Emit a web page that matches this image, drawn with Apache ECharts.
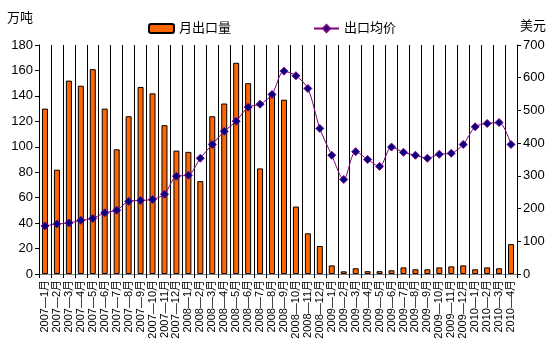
<!DOCTYPE html>
<html><head><meta charset="utf-8">
<script src="https://cdn.jsdelivr.net/npm/echarts@6/dist/echarts.min.js"></script>
<style>html,body{margin:0;padding:0;background:#fff}#c{width:555px;height:360px}</style>
</head><body><div id="c"></div>
<script>
const categories = ['2007—1月','2007—2月','2007—3月','2007—4月','2007—5月','2007—6月','2007—7月','2007—8月','2007—9月','2007—10月','2007—11月','2007—12月',
'2008—1月','2008—2月','2008—3月','2008—4月','2008—5月','2008—6月','2008—7月','2008—8月','2008—9月','2008—10月','2008—11月','2008—12月',
'2009—1月','2009—2月','2009—3月','2009—4月','2009—5月','2009—6月','2009—7月','2009—8月','2009—9月','2009—10月','2009—11月','2009—12月',
'2010—1月','2010—2月','2010—3月','2010—4月'];
const volume = [130,82,152,148,161,130,98,124,147,142,117,97,
96,73,124,134,166,150,83,141,137,53,32,22,
6.8,2.1,4.5,2.2,2.2,2.9,5.2,3.7,3.7,5.2,6,6.8,
3.7,5.2,4.5,23.5];
const price = [147,153,156,164,170,187,195,222,225,228,244,299,
302,354,396,436,467,510,519,549,620,606,567,445,
363,289,374,350,329,388,372,363,354,366,369,396,
450,460,463,396];
const leftTicks = {min:0,max:180,interval:20};
const rightTicks = {min:0,max:700,interval:100};
const font = '"Liberation Sans", Arial, "Noto Sans CJK SC", sans-serif';
const chart = echarts.init(document.getElementById('c'));
chart.setOption({
  animation:false,
  textStyle:{fontFamily:font},
  grid:{left:39,right:38,top:45,bottom:86},
  legend:[
    {left:143,top:17,itemWidth:25,itemHeight:9,textStyle:{fontSize:13,color:'#000',fontFamily:font},data:['月出口量']},
    {left:308,top:17,itemWidth:25,itemHeight:9,textStyle:{fontSize:13,color:'#000',fontFamily:font},data:['出口均价']}
  ],
  graphic:[
    {type:'text',left:7,top:12,style:{text:'万吨',fontSize:13,fill:'#000',fontFamily:font}},
    {type:'text',left:520,top:20,style:{text:'美元',fontSize:13,fill:'#000',fontFamily:font}}
  ],
  xAxis:[{
    type:'category',data:categories,boundaryGap:true,
    axisLine:{lineStyle:{color:'#000'}},
    axisTick:{show:true,inside:false,length:4,lineStyle:{color:'#000'}},
    axisLabel:{rotate:90,interval:0,fontSize:11,color:'#000',margin:6,fontFamily:font},
    splitLine:{show:true,lineStyle:{color:'#000',width:1}}
  },{
    type:'category',position:'top',data:categories,
    axisLine:{lineStyle:{color:'#808080'}},axisTick:{show:false},axisLabel:{show:false}
  }],
  yAxis:[{
    type:'value',min:leftTicks.min,max:leftTicks.max,interval:leftTicks.interval,
    axisLine:{show:true,lineStyle:{color:'#000'}},
    axisTick:{show:true,length:4,lineStyle:{color:'#000'}},
    axisLabel:{fontSize:13,color:'#000',margin:6,fontFamily:font},
    splitLine:{show:false}
  },{
    type:'value',min:rightTicks.min,max:rightTicks.max,interval:rightTicks.interval,
    axisLine:{show:true,lineStyle:{color:'#000'}},
    axisTick:{show:true,length:4,lineStyle:{color:'#000'}},
    axisLabel:{fontSize:13,color:'#000',margin:6,fontFamily:font},
    splitLine:{show:false}
  }],
  series:[{
    name:'月出口量',type:'bar',yAxisIndex:0,data:volume,barWidth:6,
    itemStyle:{color:'#FF6600',borderColor:'#000',borderWidth:1}
  },{
    name:'出口均价',type:'line',yAxisIndex:1,data:price,smooth:0.3,
    symbol:'diamond',symbolSize:8,
    lineStyle:{color:'#800080',width:1},
    itemStyle:{color:'#000080',borderColor:'#800080',borderWidth:1}
  }]
});
</script></body></html>
